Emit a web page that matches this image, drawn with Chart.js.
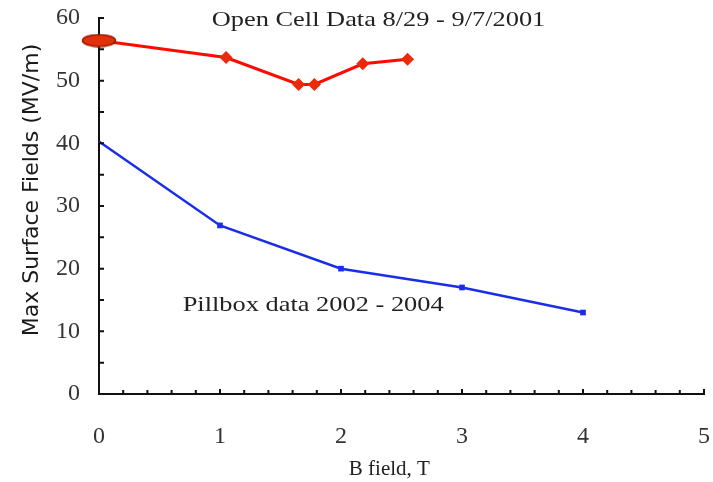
<!DOCTYPE html>
<html>
<head>
<meta charset="utf-8">
<script src="https://cdn.jsdelivr.net/npm/chart.js@4.4.1/dist/chart.umd.min.js"></script>
<style>
  body { margin: 0; background: #fff; }
  #wrap { width: 713px; height: 482px; }
</style>
</head>
<body>
<div id="wrap"><canvas id="c"></canvas></div>
<script>
// Open cell data 8/29 - 9/7/2001
const openX = [0, 1.05, 1.65, 1.78, 2.18, 2.55];
const openY = [56.4, 53.7, 49.4, 49.4, 52.7, 53.4];
// Pillbox data 2002 - 2004
const pillX = [0, 1, 2, 3, 4];
const pillY = [40.3, 26.9, 20, 17, 13];

const xTicks = [0, 1, 2, 3, 4, 5];
const yTicks = [0, 10, 20, 30, 40, 50, 60];

const serif = '"Liberation Serif", "Times New Roman", serif';

// big ellipse marker for the first open-cell point
const ellipse = document.createElement('canvas');
ellipse.width = 36; ellipse.height = 14;
(function () {
    const g = ellipse.getContext('2d');
    g.beginPath();
    g.ellipse(18, 7, 16.5, 6, 0, 0, Math.PI * 2);
    g.fillStyle = '#e2300c';
    g.fill();
    g.lineWidth = 1.5;
    g.strokeStyle = '#9a1800';
    g.stroke();
})();

// inner tick marks, axis titles and the two labels
const extras = {
    id: 'extras',
    afterDraw(chart) {
        const { ctx, scales: { x, y } } = chart;
        const x0 = x.getPixelForValue(0), y0 = y.getPixelForValue(0);
        ctx.save();
        ctx.strokeStyle = '#111';
        ctx.lineWidth = 2;
        ctx.beginPath();
        for (let i = 1; i <= 25; i++) {
            const px = x.getPixelForValue(i * 0.2);
            ctx.moveTo(px, y0);
            ctx.lineTo(px, y0 - (i % 5 === 0 ? 5 : 4));
        }
        for (let i = 1; i <= 12; i++) {
            const py = y.getPixelForValue(i * 5);
            ctx.moveTo(x0, py);
            ctx.lineTo(x0 + 5, py);
        }
        ctx.stroke();

        ctx.fillStyle = '#222';
        ctx.textAlign = 'center';
        ctx.textBaseline = 'middle';
        ctx.font = '22px ' + serif;
        const label = (txt, px, py) => {
            ctx.save();
            ctx.translate(px, py);
            ctx.scale(1.2, 1);
            ctx.fillText(txt, 0, 0);
            ctx.restore();
        };
        label('Open Cell Data 8/29 - 9/7/2001', x.getPixelForValue(2.31), y.getPixelForValue(59.6));
        label('Pillbox data 2002 - 2004', x.getPixelForValue(1.77), y.getPixelForValue(14.1));
        ctx.font = '21px ' + serif;
        ctx.fillText('B field, T', x.getPixelForValue(2.4), 469);

        ctx.translate(32, 190);
        ctx.rotate(-Math.PI / 2);
        ctx.font = '22px "DejaVu Sans", sans-serif';
        ctx.fillStyle = '#1a1a1a';
        ctx.fillText('Max Surface Fields (MV/m)', 0, 0);
        ctx.restore();
    }
};

new Chart(document.getElementById('c'), {
    type: 'scatter',
    data: {
        datasets: [
            {
                label: 'Open Cell',
                data: openX.map((v, i) => ({ x: v, y: openY[i] })),
                showLine: true,
                clip: false,
                borderColor: '#ff0a00',
                borderWidth: 3,
                backgroundColor: '#ec2a0a',
                pointStyle: [ellipse, 'rectRot', 'rectRot', 'rectRot', 'rectRot', 'rectRot'],
                pointRadius: 6.5,
                pointBorderWidth: 0
            },
            {
                label: 'Pillbox',
                data: pillX.map((v, i) => ({ x: v, y: pillY[i] })),
                showLine: true,
                clip: false,
                borderColor: '#1a2ee8',
                borderWidth: 2.5,
                backgroundColor: '#1a2ee8',
                pointStyle: 'rect',
                pointRadius: [0, 4, 4, 4, 4],
                pointBorderWidth: 0
            }
        ]
    },
    options: {
        responsive: true,
        maintainAspectRatio: false,
        animation: false,
        layout: { padding: { top: 18, right: 8, left: 0, bottom: 0 } },
        plugins: { legend: { display: false }, tooltip: { enabled: false } },
        scales: {
            x: {
                type: 'linear',
                min: 0, max: 5,
                afterBuildTicks: s => { s.ticks = xTicks.map(v => ({ value: v })); },
                afterFit: s => { s.height = 88; },
                grid: { display: false, drawTicks: true, tickLength: 25 },
                border: { display: true, color: '#111', width: 2 },
                ticks: { padding: 3, color: '#333', font: { family: serif, size: 24 } }
            },
            y: {
                type: 'linear',
                min: 0, max: 60,
                afterBuildTicks: s => { s.ticks = yTicks.map(v => ({ value: v })); },
                afterFit: s => { s.width = 99; },
                grid: { display: false, drawTicks: true, tickLength: 16 },
                border: { display: true, color: '#111', width: 2 },
                ticks: { padding: 3, color: '#333', font: { family: serif, size: 24 } }
            }
        }
    },
    plugins: [extras]
});
</script>
</body>
</html>
